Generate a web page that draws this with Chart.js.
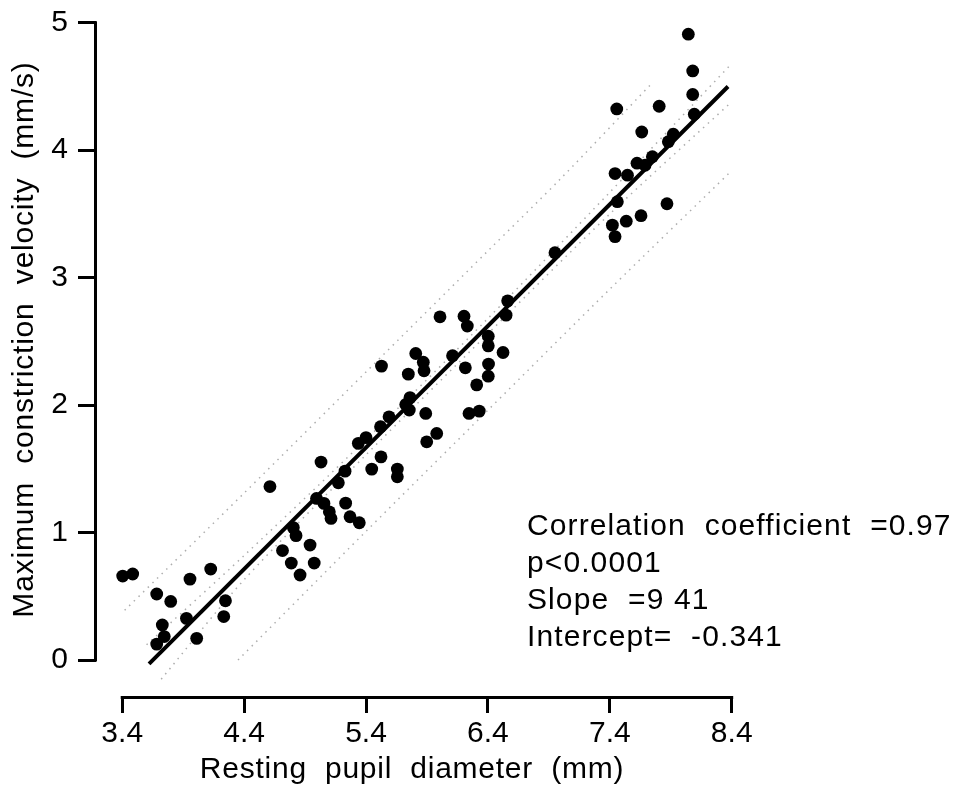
<!DOCTYPE html>
<html>
<head>
<meta charset="utf-8">
<script src="https://cdn.jsdelivr.net/npm/chart.js@4.4.1/dist/chart.umd.min.js"></script>
<style>
html,body{margin:0;padding:0;background:#fff;}
#wrap{width:958px;height:790px;}
</style>
</head>
<body>
<div id="wrap"><canvas id="c" width="958" height="790"></canvas></div>
<script>
// ---- data ----
const diameter = [3.404,3.486,3.683,3.798,3.956,4.126,3.729,3.745,3.683,3.927,4.011,4.247,4.233,
  4.715,4.787,4.859,4.975,4.941,4.804,4.826,4.612,4.994,5.055,5.099,5.113,5.233,5.269,5.345,
  5.031,5.228,5.173,5.337,5.400,5.447,5.523,5.519,5.527,5.657,5.657,5.589,5.747,5.761,5.726,5.755,
  5.808,5.870,5.876,5.890,5.980,5.898,6.007,6.110,6.204,6.231,6.215,6.245,6.329,6.308,
  6.405,6.403,6.403,6.403,6.524,6.549,6.562,6.950,
  7.421,7.443,7.535,7.656,7.869,7.462,7.443,7.545,7.623,7.689,7.749,7.880,7.921,7.662,
  7.457,7.805,8.093,8.080,8.080,8.044];
const velocity = [0.659,0.675,0.518,0.460,0.635,0.714,0.275,0.184,0.125,0.327,0.170,0.465,0.341,
  0.859,0.761,0.667,0.761,0.902,1.039,0.976,1.361,1.268,1.229,1.163,1.111,1.231,1.124,1.077,
  1.553,1.482,1.391,1.700,1.745,1.498,1.594,1.831,2.306,1.498,1.438,1.908,2.243,2.059,2.005,1.961,
  2.405,2.337,2.269,1.935,1.778,1.712,2.693,2.388,2.698,2.620,2.293,1.935,1.953,2.159,
  2.322,2.227,2.541,2.465,2.413,2.706,2.818,3.196,
  3.412,3.322,3.443,3.486,3.580,3.596,3.817,3.804,3.898,3.882,3.949,4.067,4.125,4.143,
  4.324,4.345,4.282,4.437,4.622,4.910];

const fitX = [3.62, 8.37];
const fitY = [-0.03, 4.50];

const predUpperX = [3.42, 4.4, 5.4, 6.4, 7.0, 7.75];
const predUpperY = [0.39, 1.31, 2.26, 3.21, 3.78, 4.53];
const predLowerX = [4.35, 5.4, 6.4, 7.4, 8.4];
const predLowerY = [0.00, 1.01, 1.96, 2.91, 3.84];
const confUpperX = [3.6, 4.4, 5.4, 6.4, 7.4, 8.4];
const confUpperY = [0.12, 0.82, 1.73, 2.68, 3.67, 4.68];
const confLowerX = [3.72, 4.4, 5.4, 6.4, 7.4, 8.4];
const confLowerY = [-0.15, 0.63, 1.61, 2.56, 3.50, 4.38];

const xTicks = [3.4, 4.4, 5.4, 6.4, 7.4, 8.4];
const yTicks = [0, 1, 2, 3, 4, 5];

const xTitle = 'Resting  pupil  diameter  (mm)';
const yTitle = 'Maximum  constriction  velocity  (mm/s)';
const statLines = ['Correlation  coefficient  =0.97', 'p<0.0001', 'Slope  =9 41', 'Intercept=  -0.341'];

// ---- chart ----
const FONT = '"Liberation Sans", Arial, Helvetica, sans-serif';
const pts = (xs, ys) => xs.map((x, i) => ({x: x, y: ys[i]}));

const band = (xs, ys) => ({
  type: 'line', data: pts(xs, ys), showLine: true, pointRadius: 0,
  borderColor: 'rgba(0,0,0,0.32)', borderWidth: 1.5, borderDash: [1.5, 5],
  tension: 0.3, fill: false
});

const decor = {
  id: 'decor',
  afterDraw(chart) {
    const ctx = chart.ctx;
    const xs = chart.scales.x, ys = chart.scales.y;
    ctx.save();
    ctx.strokeStyle = '#000';
    ctx.lineWidth = 3;
    ctx.lineCap = 'butt';
    // detached y axis line (0..5)
    const yx = 95.5;
    ctx.beginPath();
    ctx.moveTo(yx, ys.getPixelForValue(yTicks[yTicks.length - 1]) - 1.5);
    ctx.lineTo(yx, ys.getPixelForValue(yTicks[0]) + 1.5);
    ctx.stroke();
    // detached x axis line (3.4..8.4)
    const xy = chart.chartArea.bottom + 0.5;
    ctx.beginPath();
    ctx.moveTo(xs.getPixelForValue(xTicks[0]) - 1.5, xy);
    ctx.lineTo(xs.getPixelForValue(xTicks[xTicks.length - 1]) + 1.5, xy);
    ctx.stroke();

    ctx.fillStyle = '#000';
    ctx.font = '30px ' + FONT;
    const hasLS = ('letterSpacing' in ctx);
    // x title
    if (hasLS) ctx.letterSpacing = '0.75px';
    ctx.textAlign = 'center';
    ctx.textBaseline = 'alphabetic';
    ctx.fillText(xTitle, 412, 778);
    // stats
    if (hasLS) ctx.letterSpacing = '1.1px';
    ctx.textAlign = 'left';
    const base = [535, 572, 609, 646];
    statLines.forEach((s, i) => ctx.fillText(s, 527, base[i]));
    // y title
    if (hasLS) ctx.letterSpacing = '0.8px';
    ctx.translate(33, 339.5);
    ctx.rotate(-Math.PI / 2);
    ctx.textAlign = 'center';
    ctx.fillText(yTitle, 0, 0);
    ctx.restore();
  }
};

new Chart(document.getElementById('c'), {
  type: 'scatter',
  data: {
    datasets: [
      {
        data: pts(diameter, velocity),
        pointRadius: 6.4, pointHoverRadius: 6.4,
        pointBackgroundColor: '#000', pointBorderColor: '#000', pointBorderWidth: 0
      },
      {
        type: 'line', data: pts(fitX, fitY), showLine: true, pointRadius: 0,
        borderColor: '#000', borderWidth: 4, fill: false
      },
      band(predUpperX, predUpperY),
      band(predLowerX, predLowerY),
      band(confUpperX, confUpperY),
      band(confLowerX, confLowerY)
    ]
  },
  options: {
    responsive: false,
    devicePixelRatio: 1,
    animation: false,
    layout: {padding: {top: 10, right: 218, left: 0, bottom: 0}},
    plugins: {legend: {display: false}, tooltip: {enabled: false}},
    scales: {
      x: {
        type: 'linear', min: 3.185, max: 8.468,
        afterFit: s => { s.height = 93; s.paddingLeft = 0; s.paddingRight = 0; },
        afterBuildTicks: s => { s.ticks = xTicks.map(v => ({value: v})); },
        grid: {drawOnChartArea: false, drawTicks: true, tickLength: 16, color: '#000', lineWidth: 3},
        border: {display: false},
        ticks: {padding: 3, color: '#000', font: {family: FONT, size: 30},
                callback: v => v.toFixed(1), maxRotation: 0, autoSkip: false}
      },
      y: {
        type: 'linear', min: -0.29, max: 5.1,
        afterFit: s => { s.width = 96; s.paddingTop = 0; s.paddingBottom = 0; },
        afterBuildTicks: s => { s.ticks = yTicks.map(v => ({value: v})); },
        grid: {drawOnChartArea: false, drawTicks: true, tickLength: 18, color: '#000', lineWidth: 3},
        border: {display: false},
        ticks: {padding: 10, color: '#000', font: {family: FONT, size: 30},
                callback: v => String(v), autoSkip: false}
      }
    }
  },
  plugins: [decor]
});
</script>
</body>
</html>
